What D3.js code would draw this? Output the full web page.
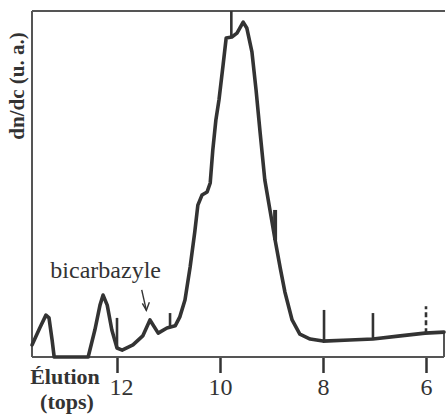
<!DOCTYPE html>
<html><head><meta charset="utf-8">
<script src="https://cdn.jsdelivr.net/npm/d3@7"></script>
<style>html,body{margin:0;padding:0;background:#fff;}svg{display:block;}</style>
</head><body><div id="chart"></div>
<script>
// Elution (tops) and dn/dc (a.u.)
const elution = [13.65,13.50,13.38,13.32,13.26,13.22,12.56,12.43,12.33,12.27,12.19,12.10,12.00,11.90,11.69,11.50,11.36,11.20,11.03,10.87,10.78,10.68,10.58,10.49,10.43,10.35,10.25,10.19,10.14,10.08,10.02,9.94,9.88,9.77,9.67,9.55,9.48,9.38,9.30,9.22,9.13,9.03,8.93,8.83,8.74,8.60,8.45,8.25,8.00,7.48,7.03,6.50,6.02,5.65];
const dndc = [3.5,8.4,12.1,11.3,4.9,0,0,7.8,15.0,17.9,15.0,7.8,2.6,2.0,3.5,6.1,10.7,6.9,8.4,9.0,11.6,16.5,26.0,36.1,43.9,46.8,47.7,50.3,59.8,68.5,74.3,84.4,92.2,92.5,93.6,96.8,95.1,88.2,77.2,64.7,51.2,42.5,33.8,25.7,18.8,10.7,6.6,5.2,4.6,4.9,5.2,6.1,6.9,7.2];
// elution markers ("tops") drawn on the trace: position, lower end, upper end
const markerPos = [12.0, 10.97, 9.78, 8.93, 7.98, 7.03, 6.0];
const markerLow = [2.6, 8.5, 92.5, 33.8, 4.6, 5.2, 6.9];
const markerHigh = [11.3, 12.7, 100, 42.5, 13.6, 12.7, 14.7];
const markerDash = [false, false, false, false, false, false, true];
const tickValues = [12, 10, 8, 6];
const labelText = "bicarbazyle";
const arrowFrom = [11.52, 19.4];
const arrowTo = [11.43, 13.5];

const W = 448, H = 414;
const mLeft = 32, mRight = 444, mTop = 11, mBottom = 357;
const x = d3.scaleLinear().domain([12, 6]).range([117, 426]);
const y = d3.scaleLinear().domain([0, 100]).range([mBottom, mTop]);

const svg = d3.select("#chart").append("svg").attr("width", W).attr("height", H);
const serif = "'Liberation Serif','DejaVu Serif',serif";
const frameCol = "#555";

// frame: left, top
svg.append("line").attr("x1", mLeft).attr("x2", mLeft).attr("y1", mTop).attr("y2", mBottom)
  .attr("stroke", frameCol).attr("stroke-width", 2);
svg.append("line").attr("x1", mLeft).attr("x2", mRight + 1).attr("y1", mTop).attr("y2", mTop)
  .attr("stroke", frameCol).attr("stroke-width", 2);
// right edge below the trace end
svg.append("line").attr("x1", mRight).attr("x2", mRight)
  .attr("y1", y(dndc[dndc.length - 1])).attr("y2", mBottom)
  .attr("stroke", frameCol).attr("stroke-width", 2);

// bottom axis
const axis = d3.axisBottom(x).tickValues(tickValues).tickSize(16).tickPadding(5).tickFormat(d3.format("d"));
const gAx = svg.append("g").attr("transform", `translate(0,${mBottom})`).call(axis);
gAx.select(".domain").remove();
gAx.selectAll(".tick line").attr("stroke", "#333").attr("stroke-width", 2.5);
gAx.selectAll(".tick text").attr("font-family", serif).attr("font-size", 24).attr("fill", "#333");
gAx.selectAll(".tick").filter(d => d === 12).select("text").attr("dx", 4);
svg.append("line").attr("x1", mLeft).attr("x2", mRight).attr("y1", mBottom).attr("y2", mBottom)
  .attr("stroke", frameCol).attr("stroke-width", 2.2);

// trace
const pts = elution.map((e, i) => [e, dndc[i]]);
const line = d3.line().x(d => x(d[0])).y(d => y(d[1])).curve(d3.curveLinear);
svg.append("path").datum(pts).attr("d", line).attr("fill", "none")
  .attr("stroke", "#333").attr("stroke-width", 3.6).attr("stroke-linejoin", "round").attr("stroke-linecap", "round");

// markers
markerPos.forEach((m, i) => {
  svg.append("line").attr("x1", x(m)).attr("x2", x(m)).attr("y1", y(markerLow[i])).attr("y2", y(markerHigh[i]))
    .attr("stroke", "#333").attr("stroke-width", i === 3 ? 4 : 2.6)
    .attr("stroke-dasharray", markerDash[i] ? "5,3" : null);
});

// annotation
svg.append("text").attr("x", x(12.22)).attr("y", 278).attr("text-anchor", "middle")
  .attr("font-family", serif).attr("font-size", 24).attr("fill", "#333").text(labelText);
svg.append("line").attr("x1", x(arrowFrom[0])).attr("y1", y(arrowFrom[1]))
  .attr("x2", x(arrowTo[0])).attr("y2", y(arrowTo[1])).attr("stroke", "#333").attr("stroke-width", 1.4);
const ax2 = x(arrowTo[0]), ay2 = y(arrowTo[1]);
svg.append("path").attr("d", `M${ax2-4},${ay2-7} L${ax2},${ay2} L${ax2+3},${ay2-8}`)
  .attr("fill", "none").attr("stroke", "#333").attr("stroke-width", 1.4);

// axis titles
svg.append("text").attr("x", 65).attr("y", 384).attr("text-anchor", "middle")
  .attr("font-family", serif).attr("font-weight", "bold").attr("font-size", 22).attr("fill", "#333").text("Élution");
svg.append("text").attr("x", 67).attr("y", 409).attr("text-anchor", "middle")
  .attr("font-family", serif).attr("font-weight", "bold").attr("font-size", 22).attr("fill", "#333").text("(tops)");
svg.append("text").attr("transform", "translate(24,86) rotate(-90)").attr("text-anchor", "middle")
  .attr("font-family", serif).attr("font-weight", "bold").attr("font-size", 21).attr("fill", "#333").text("dn/dc  (u. a.)");
</script></body></html>
